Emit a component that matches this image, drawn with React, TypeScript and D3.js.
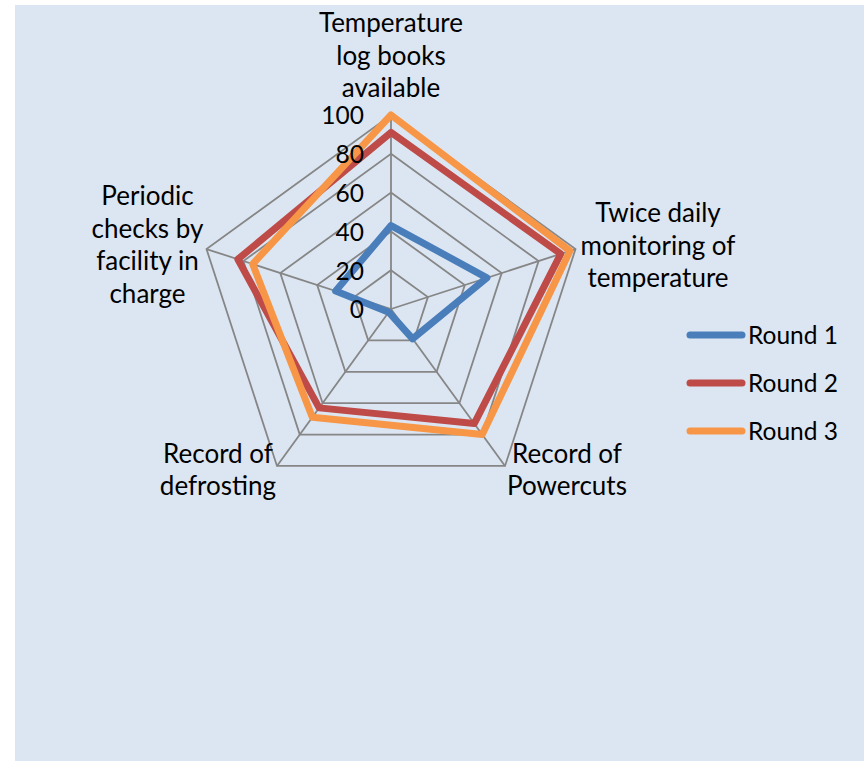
import React from "react";
import * as d3 from "d3";

const categories: string[][] = [
  ["Temperature", "log books", "available"],
  ["Twice daily", "monitoring of", "temperature"],
  ["Record of", "Powercuts"],
  ["Record of", "defrosting"],
  ["Periodic", "checks by", "facility in", "charge"],
];
const round1 = [43, 52, 19, 2, 30];
const round2 = [91, 92, 73, 63, 83];
const round3 = [100, 97, 80, 69, 75];
const seriesNames = ["Round 1", "Round 2", "Round 3"];
const tickValues = [0, 20, 40, 60, 80, 100];
const gridLevels = [20, 40, 60, 80, 100];

const W = 864;
const H = 761;
const CX = 391;
const CY = 309;
const R = 194;
const FONT = "Lato, 'Open Sans', sans-serif";
const FS = 26;
const colors = ["#4a7ebb", "#be4b48", "#f79646"];

export default function App() {
  const rScale = d3.scaleLinear().domain([0, 100]).range([0, R]);
  const n = categories.length;
  const angle = (i: number) => -Math.PI / 2 + (i * 2 * Math.PI) / n;
  const pt = (i: number, v: number): [number, number] => [
    CX + rScale(v) * Math.cos(angle(i)),
    CY + rScale(v) * Math.sin(angle(i)),
  ];
  const closed = d3.line<[number, number]>().curve(d3.curveLinearClosed);
  const series = [round1, round2, round3];

  // label placement offsets relative to outer vertex
  const labelOffset = (i: number): [number, number] => {
    switch (i) {
      case 0: return [0, -83];
      case 1: return [82.5, -27];
      case 2: return [62, -3];
      case 3: return [-59, -3];
      default: return [-59, -44];
    }
  };
  const lineH = 32.5;

  return (
    <svg width={W} height={H} style={{ position: "absolute", left: 0, top: 0 }}>
      <rect x={0} y={0} width={W} height={H} fill="#ffffff" />
      <rect x={15} y={5} width={W - 15} height={H - 5} fill="#dce6f2" />
      <g stroke="#868686" strokeWidth={1.8} fill="none">
        {gridLevels.map((lv) => (
          <path key={lv} d={closed(categories.map((_, i) => pt(i, lv))) || ""} />
        ))}
        {categories.map((_, i) => {
          const [x, y] = pt(i, 100);
          return <line key={i} x1={CX} y1={CY} x2={x} y2={y} />;
        })}
      </g>
      <g fill="none" strokeLinejoin="round">
        {series.map((s, si) => (
          <path
            key={si}
            d={closed(s.map((v, i) => pt(i, v))) || ""}
            stroke={colors[si]}
            strokeWidth={7}
          />
        ))}
      </g>
      <g fontFamily={FONT} fontSize={24.5} fill="#000">
        {tickValues.map((t) => (
          <text key={t} x={CX - 27} y={CY - rScale(t)} dy="0.38em" textAnchor="end">
            {t}
          </text>
        ))}
      </g>
      <g fontFamily={FONT} fontSize={FS} fill="#000" textAnchor="middle">
        {categories.map((lines, i) => {
          const [vx, vy] = pt(i, 100);
          const [dx, dy] = labelOffset(i);
          return (
            <text key={i}>
              {lines.map((ln, li) => (
                <tspan key={li} x={vx + dx} y={vy + dy + li * lineH}>
                  {ln}
                </tspan>
              ))}
            </text>
          );
        })}
      </g>
      <g fontFamily={FONT} fontSize={24.5} fill="#000">
        {seriesNames.map((nm, si) => {
          const y = 335 + si * 48;
          return (
            <g key={nm}>
              <line x1={690} x2={742} y1={y} y2={y} stroke={colors[si]} strokeWidth={7} strokeLinecap="round" />
              <text x={748} y={y} dy="0.35em">{nm}</text>
            </g>
          );
        })}
      </g>
    </svg>
  );
}
